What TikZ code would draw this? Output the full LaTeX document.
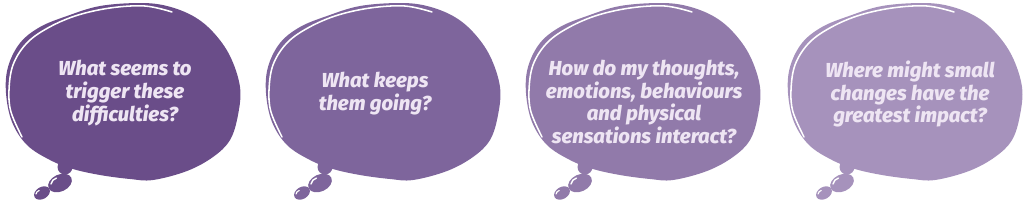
\documentclass[tikz,border=0pt]{standalone}
\usepackage{fontspec}
\setmainfont{Fira Sans}
\newfontfamily\questionfont{Fira Sans ExtraBold Italic}
\definecolor{bubbleone}{HTML}{6A4D89}
\definecolor{bubbletwo}{HTML}{7E659C}
\definecolor{bubblethree}{HTML}{917AAA}
\definecolor{bubblefour}{HTML}{A692BC}
\definecolor{bubbletext}{HTML}{EEE5F3}

\begin{document}
\begin{tikzpicture}[
        x=.025cm,y=-.025cm,
        question/.style={align=center,text=bubbletext,inner sep=0pt,
          font=\fontsize{14.4}{16.3}\selectfont\questionfont},
        shine/.style={draw=white,line width=1.1pt,line cap=round}
      ]
        \useasboundingbox (0,0) rectangle (1024,205);

        \foreach \dx/\col in {0/bubbleone,260/bubbletwo,520/bubblethree,782/bubblefour}{
          \begin{scope}[shift={(\dx,0)}]
            \fill[\col] plot[smooth cycle,tension=.6] coordinates {
              (6,93) (8,67) (20,43) (40,27) (67,16) (100,6) (140,3) (167,6)
              (193,16) (213,32) (230,56) (240,87) (238,115) (230,140) (213,157)
              (187,171) (153,180) (130,179) (100,175) (73,169) (50,160) (27,145)
              (12,122)};
            \draw[shine] plot[smooth,tension=.6] coordinates {
              (22,137) (11,112) (9,90) (13,65) (26,44) (46,29) (75,16) (110,8)
              (145,6) (172,12)};
            % tail
            \fill[\col] (65,167) circle[radius=7.5];
            \fill[\col,rotate around={25:(60,183)}] (60,183) ellipse[x radius=12.5,y radius=8.5];
            \fill[\col,rotate around={30:(42,193)}] (42,193) ellipse[x radius=8.5,y radius=6];
            \draw[shine,line width=1pt] (51,184) arc[start angle=190,end angle=255,radius=7.5];
            \draw[shine,line width=.8pt] (36,194) arc[start angle=190,end angle=255,radius=4.5];
          \end{scope}
        }

        \node[question] (trigger) at (125,93) {What seems to\\trigger these\\difficulties?};
        \node[question] (keeps) at (375,94) {What keeps\\them going?};
        \node[question] (interact) at (644,102)
          {How do my thoughts,\\emotions, behaviours\\and physical\\sensations interact?};
        \node[question] (impact) at (910,94)
          {Where might small\\changes have the\\greatest impact?};
      \end{tikzpicture}
\end{document}
